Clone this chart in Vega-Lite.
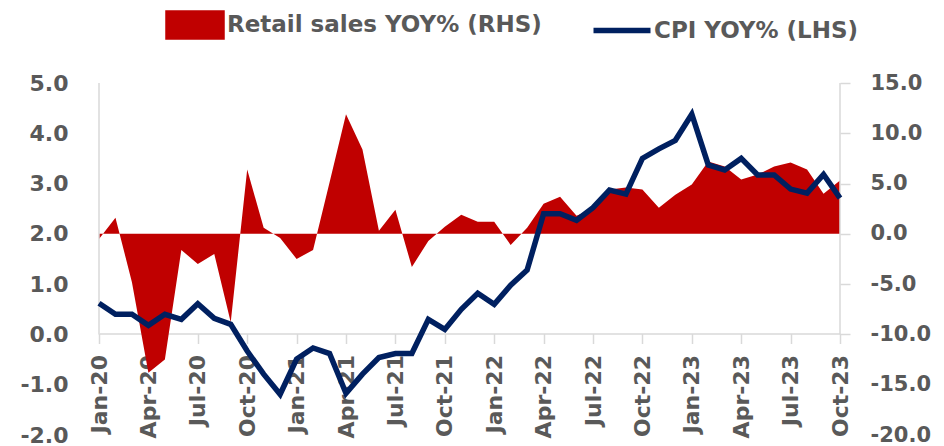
{
  "$schema": "https://vega.github.io/schema/vega-lite/v6.json",
  "width": 741,
  "height": 352,
  "autosize": {"type": "none"},
  "padding": {"left": 99, "top": 83, "right": 104, "bottom": 11},
  "background": "white",
  "config": {
    "view": {"stroke": null},
    "axis": {"grid": false, "labelFont": "DejaVu Sans", "labelFontWeight": "bold", "labelColor": "#595959", "labelFontSize": 22, "domainColor": "#d9d9d9", "tickColor": "#d9d9d9", "domainWidth": 1.5, "tickWidth": 1.5},
    "legend": {
      "title": null, "orient": "none", "legendX": 68, "legendY": -86, "direction": "horizontal", "padding": 0,
      "labelFont": "DejaVu Sans", "labelFontSize": 23, "labelColor": "#595959", "labelFontWeight": "bold", "labelLimit": 0,
      "symbolSize": 2500, "labelOffset": 4, "columnPadding": 40
    }
  },
  "data": {"values": [
    {"m": "Jan-20", "cpi": 0.62, "rs": -0.5},
    {"m": "Feb-20", "cpi": 0.40, "rs": 1.6},
    {"m": "Mar-20", "cpi": 0.40, "rs": -4.8},
    {"m": "Apr-20", "cpi": 0.18, "rs": -13.8},
    {"m": "May-20", "cpi": 0.40, "rs": -12.5},
    {"m": "Jun-20", "cpi": 0.30, "rs": -1.6},
    {"m": "Jul-20", "cpi": 0.61, "rs": -3.0},
    {"m": "Aug-20", "cpi": 0.32, "rs": -2.0},
    {"m": "Sep-20", "cpi": 0.20, "rs": -8.8},
    {"m": "Oct-20", "cpi": -0.33, "rs": 6.4},
    {"m": "Nov-20", "cpi": -0.79, "rs": 0.6},
    {"m": "Dec-20", "cpi": -1.19, "rs": -0.4},
    {"m": "Jan-21", "cpi": -0.49, "rs": -2.5},
    {"m": "Feb-21", "cpi": -0.27, "rs": -1.6},
    {"m": "Mar-21", "cpi": -0.38, "rs": 5.1},
    {"m": "Apr-21", "cpi": -1.17, "rs": 11.9},
    {"m": "May-21", "cpi": -0.79, "rs": 8.4},
    {"m": "Jun-21", "cpi": -0.46, "rs": 0.3},
    {"m": "Jul-21", "cpi": -0.38, "rs": 2.4},
    {"m": "Aug-21", "cpi": -0.38, "rs": -3.3},
    {"m": "Sep-21", "cpi": 0.30, "rs": -0.7},
    {"m": "Oct-21", "cpi": 0.10, "rs": 0.7},
    {"m": "Nov-21", "cpi": 0.50, "rs": 1.9},
    {"m": "Dec-21", "cpi": 0.82, "rs": 1.2},
    {"m": "Jan-22", "cpi": 0.60, "rs": 1.2},
    {"m": "Feb-22", "cpi": 0.98, "rs": -1.1},
    {"m": "Mar-22", "cpi": 1.28, "rs": 0.6},
    {"m": "Apr-22", "cpi": 2.40, "rs": 3.0},
    {"m": "May-22", "cpi": 2.40, "rs": 3.7},
    {"m": "Jun-22", "cpi": 2.27, "rs": 1.8},
    {"m": "Jul-22", "cpi": 2.52, "rs": 2.5},
    {"m": "Aug-22", "cpi": 2.87, "rs": 4.4},
    {"m": "Sep-22", "cpi": 2.79, "rs": 4.6},
    {"m": "Oct-22", "cpi": 3.50, "rs": 4.4},
    {"m": "Nov-22", "cpi": 3.69, "rs": 2.6},
    {"m": "Dec-22", "cpi": 3.86, "rs": 3.9},
    {"m": "Jan-23", "cpi": 4.38, "rs": 4.9},
    {"m": "Feb-23", "cpi": 3.37, "rs": 7.2},
    {"m": "Mar-23", "cpi": 3.27, "rs": 6.7},
    {"m": "Apr-23", "cpi": 3.50, "rs": 5.4},
    {"m": "May-23", "cpi": 3.17, "rs": 5.9},
    {"m": "Jun-23", "cpi": 3.17, "rs": 6.7},
    {"m": "Jul-23", "cpi": 2.89, "rs": 7.1},
    {"m": "Aug-23", "cpi": 2.81, "rs": 6.4},
    {"m": "Sep-23", "cpi": 3.18, "rs": 4.0},
    {"m": "Oct-23", "cpi": 2.71, "rs": 5.3}
  ]},
  "encoding": {
    "x": {
      "field": "m", "type": "ordinal", "sort": null,
      "scale": {"type": "point", "padding": 0},
      "axis": {
        "title": null,
        "values": ["Jan-20","Apr-20","Jul-20","Oct-20","Jan-21","Apr-21","Jul-21","Oct-21","Jan-22","Apr-22","Jul-22","Oct-22","Jan-23","Apr-23","Jul-23","Oct-23"],
        "labelAngle": -90, "labelFontSize": 22, "tickSize": 10, "labelPadding": 11, "offset": -101.5
      }
    }
  },
  "layer": [
    {
      "mark": {"type": "area", "opacity": 1},
      "encoding": {
        "y": {"field": "rs", "type": "quantitative", "scale": {"domain": [-20, 15], "nice": false},
          "axis": {"orient": "right", "title": null, "values": [-20,-15,-10,-5,0,5,10,15], "labelExpr": "replace(format(datum.value, '.1f'), '\u2212', '-')", "domain": false, "tickSize": 10, "labelPadding": 20, "labelFontSize": 21,
            "tickOpacity": {"condition": {"test": "datum.value < -10", "value": 0}, "value": 1}}},
        "color": {"datum": "Retail sales YOY% (RHS)", "type": "nominal",
          "scale": {"domain": ["Retail sales YOY% (RHS)", "CPI YOY% (LHS)"], "range": ["#C00000", "#002060"]},
          "legend": {
            "encode": {"symbols": {"update": {
              "shape": {"signal": "datum.value === 'CPI YOY% (LHS)' ? 'M-1.14,0H1.14' : 'M-1.08,-0.48H1.08V0.48H-1.08Z'"},
              "fill": {"signal": "datum.value === 'CPI YOY% (LHS)' ? 'transparent' : '#C00000'"},
              "stroke": {"signal": "datum.value === 'CPI YOY% (LHS)' ? '#002060' : 'transparent'"},
              "strokeWidth": {"value": 5.5},
              "opacity": {"value": 1},
              "fillOpacity": {"value": 1},
              "strokeOpacity": {"value": 1}
            }}}
          }
        }
      }
    },
    {
      "transform": [{"filter": "datum.m === 'Jan-20' || datum.m === 'Oct-23'"}],
      "mark": {"type": "rule", "color": "#d9d9d9", "strokeWidth": 1.5},
      "encoding": {
        "y": {"datum": 0, "type": "quantitative", "scale": {"domain": [-2, 5], "nice": false}, "axis": null},
        "y2": {"datum": 5}
      }
    },
    {
      "mark": {"type": "line", "strokeWidth": 5.5, "strokeJoin": "miter"},
      "encoding": {
        "y": {"field": "cpi", "type": "quantitative", "scale": {"domain": [-2, 5], "nice": false},
          "axis": {"orient": "left", "title": null, "values": [-2,-1,0,1,2,3,4,5], "labelExpr": "replace(format(datum.value, '.1f'), '\u2212', '-')", "domain": false, "ticks": false, "labelPadding": 31}},
        "color": {"datum": "CPI YOY% (LHS)", "type": "nominal",
          "legend": {
            "encode": {"symbols": {"update": {
              "shape": {"signal": "datum.value === 'CPI YOY% (LHS)' ? 'M-1.14,0H1.14' : 'M-1.08,-0.48H1.08V0.48H-1.08Z'"},
              "fill": {"signal": "datum.value === 'CPI YOY% (LHS)' ? 'transparent' : '#C00000'"},
              "stroke": {"signal": "datum.value === 'CPI YOY% (LHS)' ? '#002060' : 'transparent'"},
              "strokeWidth": {"value": 5.5},
              "opacity": {"value": 1},
              "fillOpacity": {"value": 1},
              "strokeOpacity": {"value": 1}
            }}}
          }
        }
      }
    }
  ],
  "resolve": {"scale": {"y": "independent"}}
}
